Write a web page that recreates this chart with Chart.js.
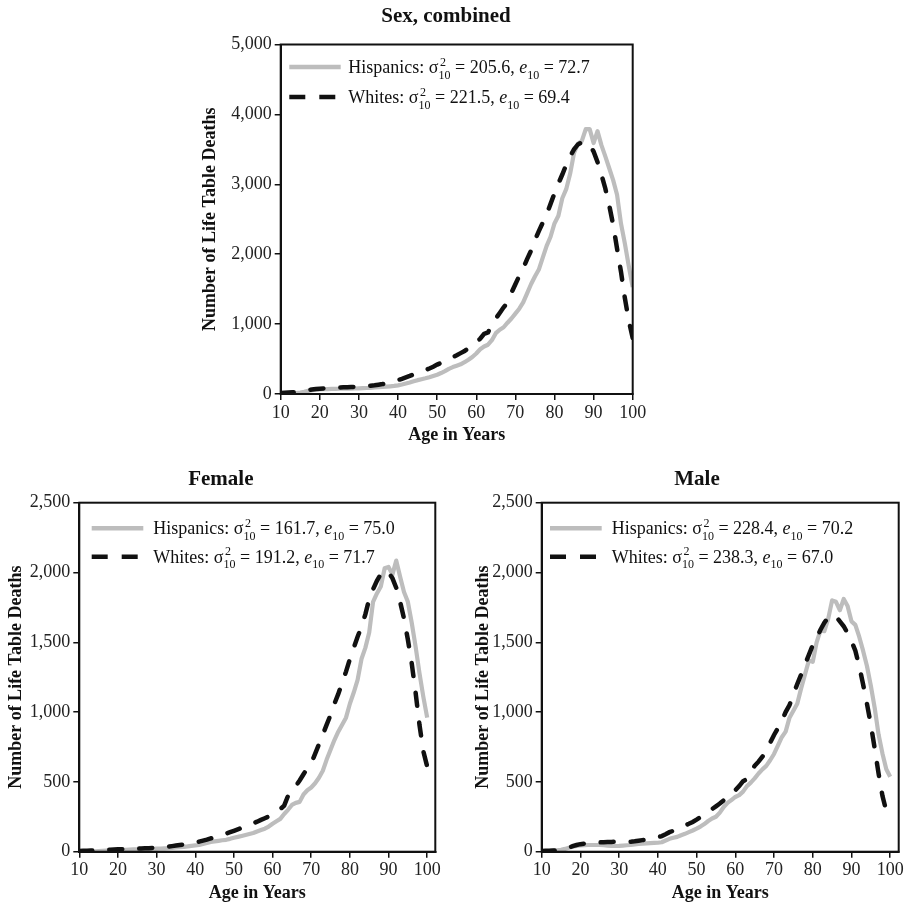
<!DOCTYPE html>
<html><head><meta charset="utf-8">
<script src="https://cdn.jsdelivr.net/npm/chart.js@4/dist/chart.umd.min.js"></script>
<style>
html,body{margin:0;padding:0;background:#fff;}
#wrap{position:relative;width:912px;height:907px;overflow:hidden;background:#fff;}
canvas{position:absolute;}
</style></head><body>
<div id="wrap">
<canvas id="cTop" width="912" height="452" style="left:0;top:0"></canvas>
<canvas id="cF" width="456" height="452" style="left:0;top:455px"></canvas>
<canvas id="cM" width="456" height="452" style="left:456px;top:455px"></canvas>
</div>
<script>
// ---------- data ----------
const ages = [10,11,12,13,14,15,16,17,18,19,20,21,22,23,24,25,26,27,28,29,30,31,32,33,34,35,36,37,38,39,40,41,42,43,44,45,46,47,48,49,50,51,52,53,54,55,56,57,58,59,60,61,62,63,64,65,66,67,68,69,70,71,72,73,74,75,76,77,78,79,80,81,82,83,84,85,86,87,88,89,90,91,92,93,94,95,96,97,98,99,100];

const hispCombined = [5,4,5,8,14,22,32,45,55,62,66,68,70,72,74,75,76,77,78,79,81,83,86,89,93,97,101,105,110,116,124,136,150,165,182,198,212,225,240,258,276,300,328,360,385,405,425,455,490,530,580,640,680,705,770,870,920,955,1020,1080,1150,1220,1310,1440,1570,1680,1780,1950,2120,2250,2440,2550,2800,2930,3150,3450,3580,3620,3790,3790,3590,3760,3560,3400,3230,3060,2850,2440,2150,1830,1530];
const whiteCombined = [15,17,20,24,28,33,42,55,65,72,76,80,83,86,89,92,95,98,100,102,105,109,114,119,125,133,142,153,166,182,200,217,238,258,280,300,320,342,365,390,420,445,470,500,527,555,585,615,655,700,740,790,860,880,990,1080,1160,1240,1310,1450,1570,1690,1800,1930,2050,2200,2330,2450,2570,2720,2870,3010,3140,3280,3400,3500,3570,3600,3605,3560,3470,3320,3140,2940,2700,2420,2080,1750,1370,1050,800];

const hispFemale = [5,3,2,1,2,4,6,8,10,11,12,13,14,15,16,17,18,19,20,21,22,23,24,25,27,30,33,35,38,42,45,48,55,62,70,74,78,82,85,92,100,106,113,120,127,134,145,155,165,180,200,218,235,270,300,335,350,357,410,440,460,490,530,580,660,730,800,860,910,960,1060,1140,1230,1380,1460,1570,1790,1850,1900,2030,2040,1985,2085,1970,1860,1790,1640,1470,1280,1110,960];
const whiteFemale = [5,6,7,8,9,10,11,12,14,16,17,18,19,20,21,22,23,24,25,27,28,30,33,36,40,44,48,52,56,60,66,72,79,86,95,103,110,120,130,140,150,160,170,180,190,203,215,228,240,252,265,285,305,330,400,445,470,510,555,600,633,700,770,840,910,980,1060,1130,1210,1290,1380,1460,1540,1610,1700,1810,1880,1940,1990,2015,2000,1960,1890,1790,1670,1520,1350,1140,910,720,610];

const hispMale = [5,5,6,8,10,14,20,28,36,42,45,47,48,48,48,48,46,44,42,41,42,44,46,48,52,55,58,60,62,63,64,68,80,92,100,106,118,128,140,152,165,180,198,220,238,250,280,320,350,370,392,405,430,470,495,525,560,590,615,655,700,760,820,860,960,1010,1060,1170,1270,1370,1360,1500,1585,1580,1670,1800,1790,1730,1810,1760,1650,1625,1540,1440,1330,1190,1030,840,704,590,537];
const whiteMale = [5,6,7,8,9,12,18,28,40,48,54,58,62,64,66,67,68,69,70,71,72,72,72,72,75,79,83,87,92,98,104,112,125,140,150,160,175,188,200,213,230,248,265,285,305,325,345,368,390,410,440,470,505,520,570,615,645,680,720,780,836,885,935,1000,1050,1130,1200,1270,1340,1410,1480,1530,1590,1640,1680,1695,1685,1650,1615,1565,1510,1440,1330,1200,1060,910,740,560,400,290,230];

const seriesNames = ['Hispanics', 'Whites'];
const panelTitles = ['Sex, combined', 'Female', 'Male'];
const sigma2Hisp = ['205.6', '161.7', '228.4'];
const sigma2White = ['221.5', '191.2', '238.3'];
const e10Hisp = ['72.7', '75.0', '70.2'];
const e10White = ['69.4', '71.7', '67.0'];
const xTicks = [10, 20, 30, 40, 50, 60, 70, 80, 90, 100];
const yTicksTop = [0, 1000, 2000, 3000, 4000, 5000];
const yTicksBottom = [0, 500, 1000, 1500, 2000, 2500];
const xAxisTitle = 'Age in Years';
const yAxisTitle = 'Number of Life Table Deaths';

// ---------- styles / plugins ----------
const SERIF = "'Liberation Serif','Times New Roman',Times,serif";
const GRAY = '#bdbdbd';
const BLACK = '#111111';

const framePlugin = {
  id: 'frameBox',
  afterDatasetsDraw(chart) {
    const {ctx, chartArea: a} = chart;
    ctx.save();
    ctx.strokeStyle = BLACK; ctx.lineWidth = 2;
    ctx.strokeRect(a.left, a.top, a.right - a.left, a.bottom - a.top);
    ctx.restore();
  }
};

const panelTitlePlugin = {
  id: 'panelTitle',
  afterDraw(chart, args, o) {
    const ctx = chart.ctx;
    ctx.save();
    ctx.font = 'bold 21px ' + SERIF;
    ctx.fillStyle = BLACK; ctx.textAlign = 'center'; ctx.textBaseline = 'middle';
    ctx.fillText(o.text, o.x, o.y);
    ctx.restore();
  }
};

function drawRich(ctx, x, y, parts) {
  ctx.save();
  ctx.fillStyle = BLACK; ctx.textBaseline = 'alphabetic'; ctx.textAlign = 'left';
  for (const p of parts) {
    if (p.k === 'n' || p.k === 'i') {
      ctx.font = (p.k === 'i' ? 'italic ' : '') + '18px ' + SERIF;
      ctx.fillText(p.t, x, y);
      x += ctx.measureText(p.t).width;
    } else if (p.k === 'ss') {
      ctx.font = '12px ' + SERIF;
      ctx.fillText(p.sup, x + 1.5, y - 7.5);
      ctx.fillText(p.sub, x, y + 5.5);
      x += Math.max(ctx.measureText(p.sup).width + 1.5, ctx.measureText(p.sub).width);
    } else if (p.k === 'sub') {
      ctx.font = '12px ' + SERIF;
      ctx.fillText(p.t, x, y + 5.5);
      x += ctx.measureText(p.t).width;
    }
  }
  ctx.restore();
}

const richLegendPlugin = {
  id: 'richLegend',
  afterDatasetsDraw(chart, args, o) {
    const {ctx, chartArea: a} = chart;
    o.rows.forEach((row, i) => {
      const cy = a.top + o.rowY[i];
      ctx.save();
      ctx.lineWidth = 4.5; ctx.strokeStyle = row.color; ctx.lineCap = 'butt';
      ctx.setLineDash(row.dash);
      ctx.beginPath(); ctx.moveTo(a.left + o.x0, cy); ctx.lineTo(a.left + o.x1, cy); ctx.stroke();
      ctx.restore();
      drawRich(ctx, a.left + o.tx, cy + 6, row.parts);
    });
  }
};

function legendRows(k) {
  return [
    {color: GRAY, dash: [], parts: [
      {k: 'n', t: seriesNames[0] + ': σ'}, {k: 'ss', sup: '2', sub: '10'},
      {k: 'n', t: ' = ' + sigma2Hisp[k] + ', '}, {k: 'i', t: 'e'}, {k: 'sub', t: '10'},
      {k: 'n', t: ' = ' + e10Hisp[k]}]},
    {color: BLACK, dash: [16, 14], parts: [
      {k: 'n', t: seriesNames[1] + ': σ'}, {k: 'ss', sup: '2', sub: '10'},
      {k: 'n', t: ' = ' + sigma2White[k] + ', '}, {k: 'i', t: 'e'}, {k: 'sub', t: '10'},
      {k: 'n', t: ' = ' + e10White[k]}]}
  ];
}

function makeChart(id, c) {
  const pts = arr => ages.map((a, i) => ({x: a, y: arr[i]}));
  return new Chart(document.getElementById(id), {
    type: 'line',
    data: {datasets: [
      {label: seriesNames[0], data: pts(c.hisp), borderColor: GRAY, borderWidth: 4.2,
       pointRadius: 0, tension: 0, order: 1, borderJoinStyle: 'round', fill: false},
      {label: seriesNames[1], data: pts(c.white), borderColor: BLACK, borderWidth: 4.5,
       borderDash: [13, 17], borderCapStyle: 'round', pointRadius: 0, tension: 0, order: 0, fill: false}
    ]},
    options: {
      responsive: false, animation: false, devicePixelRatio: 1,
      layout: {padding: c.pad},
      plugins: {
        legend: {display: false}, tooltip: {enabled: false},
        panelTitle: {text: panelTitles[c.k], x: c.titleX, y: c.titleY},
        richLegend: {rows: legendRows(c.k), x0: c.lg.x0, x1: c.lg.x1, tx: c.lg.tx, rowY: c.lg.rowY}
      },
      scales: {
        x: {
          type: 'linear', min: 10, max: c.xMax,
          afterBuildTicks: s => { s.ticks = xTicks.map(v => ({value: v})); },
          afterFit: s => { s.height = c.xH; },
          grid: {drawOnChartArea: false, drawTicks: true, tickLength: 6, color: BLACK, lineWidth: 1.5},
          border: {display: true, color: BLACK, width: 2},
          ticks: {font: {family: SERIF, size: 18}, color: '#222', padding: 2, maxRotation: 0, autoSkip: false},
          title: {display: true, text: xAxisTitle, color: BLACK,
                  font: {family: SERIF, size: 18, weight: 'bold'}, padding: {top: 0, bottom: c.xtPad}}
        },
        y: {
          type: 'linear', min: 0, max: c.yTicks[c.yTicks.length - 1],
          afterBuildTicks: s => { s.ticks = c.yTicks.map(v => ({value: v})); },
          afterFit: s => { s.width = c.yW; },
          grid: {drawOnChartArea: false, drawTicks: true, tickLength: 6, color: BLACK, lineWidth: 1.5},
          border: {display: true, color: BLACK, width: 2},
          ticks: {font: {family: SERIF, size: 18}, color: '#222', padding: 3,
                  callback: v => v.toLocaleString('en-US')},
          title: {display: true, text: yAxisTitle, color: BLACK,
                  font: {family: SERIF, size: 18, weight: 'bold'}, padding: {top: c.ytPad, bottom: 0}}
        }
      }
    },
    plugins: [framePlugin, panelTitlePlugin, richLegendPlugin]
  });
}

makeChart('cTop', {k: 0, hisp: hispCombined, white: whiteCombined, yTicks: yTicksTop, xMax: 100,
  pad: {left: 190, right: 279.3, top: 44.5, bottom: 2}, yW: 90.7, xH: 56, xtPad: 4.2, ytPad: 9.2,
  titleX: 446, titleY: 16.7, lg: {x0: 8.6, x1: 60, tx: 67.6, rowY: [22.5, 52.5]}});

makeChart('cF', {k: 1, hisp: hispFemale, white: whiteFemale, yTicks: yTicksBottom, xMax: 102.1,
  pad: {left: 0, right: 20.7, top: 47.7, bottom: 0}, yW: 79.3, xH: 55.3, xtPad: 3.2, ytPad: 5.2,
  titleX: 220.8, titleY: 25, lg: {x0: 12.4, x1: 64, tx: 74, rowY: [25.6, 54]}});

makeChart('cM', {k: 2, hisp: hispMale, white: whiteMale, yTicks: yTicksBottom, xMax: 102.2,
  pad: {left: 0, right: 13.3, top: 47.7, bottom: 0}, yW: 85.7, xH: 55.3, xtPad: 3.2, ytPad: 16.2,
  titleX: 241, titleY: 25, lg: {x0: 8.3, x1: 60, tx: 70, rowY: [25.6, 54]}});
</script>
</body></html>
